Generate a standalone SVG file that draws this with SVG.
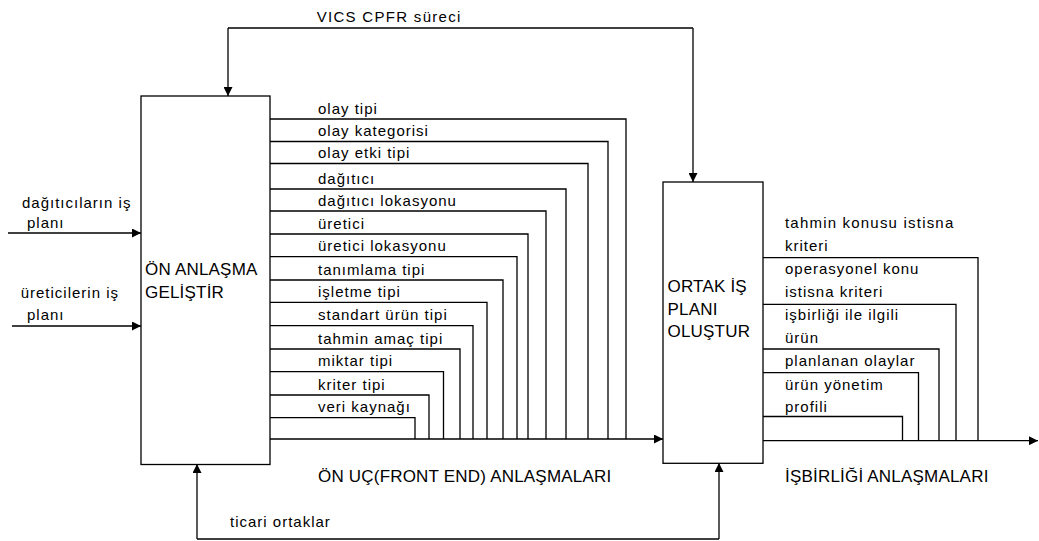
<svg xmlns="http://www.w3.org/2000/svg" width="1039" height="541" viewBox="0 0 1039 541">
<defs>
<marker id="ah" markerUnits="userSpaceOnUse" markerWidth="10" markerHeight="9" refX="9" refY="4.5" orient="auto">
<path d="M0,0 L9,4.5 L0,9 z" fill="#000"/>
</marker>
<style>
.box{fill:#fff;stroke:#000;stroke-width:1.3}
.ln{fill:none;stroke:#000;stroke-width:1.3}
.arr{fill:none;stroke:#000;stroke-width:1.3;marker-end:url(#ah)}
.t{font-family:"Liberation Sans",Arial,sans-serif;font-size:15px;letter-spacing:1px;fill:#000}
.c{font-family:"Liberation Sans",Arial,sans-serif;font-size:17px;letter-spacing:0.2px;fill:#000}
</style>
</defs>
<rect width="1039" height="541" fill="#fff"/>

<g id="connectors">
<!-- VICS CPFR feedback -->
<path class="ln" d="M693,28 H228"/>
<path class="arr" d="M228,28 V96"/>
<path class="arr" d="M693,28 V182"/>
<!-- inputs -->
<path class="arr" d="M8,233 H141"/>
<path class="arr" d="M12,326 H141"/>
<!-- ticari ortaklar -->
<path class="ln" d="M197,539 H719"/>
<path class="arr" d="M197,539 V464"/>
<path class="arr" d="M719,539 V463"/>
<!-- front end lines -->
<path class="arr" d="M270,439 H663"/>
<path class="ln" d="M270,119 H626 V439"/>
<path class="ln" d="M270,141.5 H608 V439"/>
<path class="ln" d="M270,163.5 H588 V439"/>
<path class="ln" d="M270,189 H566 V439"/>
<path class="ln" d="M268,211 H546 V439"/>
<path class="ln" d="M270,234 H528 V439"/>
<path class="ln" d="M270,256.7 H517 V439"/>
<path class="ln" d="M270,280 H503 V439"/>
<path class="ln" d="M270,302.3 H487 V439"/>
<path class="ln" d="M270,325.7 H473 V439"/>
<path class="ln" d="M270,349 H460 V439"/>
<path class="ln" d="M270,371.7 H443.5 V439"/>
<path class="ln" d="M270,395 H429 V439"/>
<path class="ln" d="M270,417.7 H415 V439"/>
<!-- collaboration lines -->
<path class="arr" d="M763,440.7 H1038"/>
<path class="ln" d="M763,257.7 H978 V440.7"/>
<path class="ln" d="M763,304.3 H956 V440.7"/>
<path class="ln" d="M763,349 H939 V440.7"/>
<path class="ln" d="M763,372.7 H918.5 V440.7"/>
<path class="ln" d="M763,416.5 H902.5 V440.7"/>
</g>

<g id="node-on-anlasma">
<rect class="box" x="141" y="96" width="129" height="368.5"/>
<text class="c" x="145" y="275">ÖN ANLAŞMA</text>
<text class="c" x="145" y="298">GELİŞTİR</text>
</g>

<g id="node-ortak-is-plani">
<rect class="box" x="663" y="182" width="100" height="281.3"/>
<text class="c" x="667.5" y="291.7">ORTAK İŞ</text>
<text class="c" x="667.5" y="315">PLANI</text>
<text class="c" x="667.5" y="336.7">OLUŞTUR</text>
</g>

<g id="labels">
<text class="t" x="316.7" y="22.3" style="letter-spacing:1.3px">VICS CPFR süreci</text>
<text class="t" x="22" y="208.3">dağıtıcıların iş</text>
<text class="t" x="27" y="228.3">planı</text>
<text class="t" x="20.7" y="298.3">üreticilerin iş</text>
<text class="t" x="27" y="320">planı</text>

<text class="t" x="318" y="113.5">olay tipi</text>
<text class="t" x="318" y="136">olay kategorisi</text>
<text class="t" x="318" y="158">olay etki tipi</text>
<text class="t" x="318" y="183.5">dağıtıcı</text>
<text class="t" x="318" y="205.5">dağıtıcı lokasyonu</text>
<text class="t" x="318" y="228.5">üretici</text>
<text class="t" x="318" y="251.2">üretici lokasyonu</text>
<text class="t" x="318" y="274.5">tanımlama tipi</text>
<text class="t" x="318" y="296.8">işletme tipi</text>
<text class="t" x="318" y="320.2">standart ürün tipi</text>
<text class="t" x="318" y="343.5">tahmin amaç tipi</text>
<text class="t" x="318" y="366.2">miktar tipi</text>
<text class="t" x="318" y="389.5">kriter tipi</text>
<text class="t" x="318" y="412">veri kaynağı</text>

<text class="c" x="318" y="481.7">ÖN UÇ(FRONT END) ANLAŞMALARI</text>
<text class="t" x="230" y="526.7">ticari ortaklar</text>

<text class="t" x="785" y="228" style="letter-spacing:1.2px">tahmin konusu istisna</text>
<text class="t" x="785" y="251">kriteri</text>
<text class="t" x="785" y="273.5">operasyonel konu</text>
<text class="t" x="785" y="296.7">istisna kriteri</text>
<text class="t" x="785" y="320">işbirliği ile ilgili</text>
<text class="t" x="785" y="343">ürün</text>
<text class="t" x="785" y="366">planlanan olaylar</text>
<text class="t" x="785" y="390">ürün yönetim</text>
<text class="t" x="785" y="411.7">profili</text>
<text class="c" x="785" y="481.7">İŞBİRLİĞİ ANLAŞMALARI</text>
</g>
</svg>
